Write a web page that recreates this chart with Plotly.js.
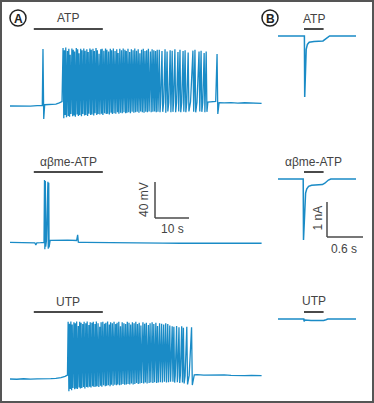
<!DOCTYPE html>
<html><head><meta charset="utf-8">
<script src="https://cdn.plot.ly/plotly-3.0.1.min.js"></script>
<style>html,body{margin:0;padding:0;background:#fff}#chart{width:374px;height:403px}</style>
</head><body><div id="chart"></div>
<script>
// ---------------- DATA ----------------
const drugs = ['ATP', 'αβme-ATP', 'UTP'];
const drugOnA = 7.0, drugOffA = 27.3;      // s
const drugOnB = 0.433, drugOffB = 0.76;    // s
const scaleA = {mV: 40, s: 10};
const scaleB = {nA: 1, s: 0.6};

// Panel A1 (ATP) – membrane potential (mV) vs time (s)
const a1BaseT = [0,2,4,6,8,9.5,10.2,12,13.5,14.5,15.3,43.6,44.3,45.2,45.9,46.7,47.4,48.1,49.0,49.7,50.5,51.2,52.0,53.1,54.1,55.0,55.9,56.7,57.4,58.2,59.0,60.5,61.5,63,65,67,69,71,73,74];
const a1BaseV = [-60,-60.3,-59.8,-60.2,-59.6,-59.4,-58.6,-58.2,-57.9,-56.5,-55.0,-56,-56.5,-56,-56.5,-56,-56.5,-56,-56.3,-56,-56.3,-56,-56,-55.5,-56,-55.8,-56,-56,-56,-55.6,-55.2,-55,-56.2,-56.6,-56.2,-56.8,-56.4,-56.9,-56.7,-57];
const a1SpikeT = [9.7,
 15.6,16.0,16.4,16.9,17.3,17.7,18.2,18.6,19.0,19.5,19.9,20.3,20.8,21.2,21.7,22.1,22.6,23.0,23.5,23.9,
 24.4,24.8,25.3,25.7,26.2,26.7,27.1,27.6,28.1,28.5,29.0,29.5,29.9,30.4,30.9,31.4,31.8,32.3,32.8,33.3,
 33.8,34.2,34.7,35.2,35.7,36.2,36.7,37.2,37.7,38.2,38.7,39.2,39.7,40.2,40.7,41.3,41.8,42.3,42.8,43.3,
 43.9,44.7,45.6,46.2,47.1,47.7,48.5,49.4,50.0,50.9,51.5,52.4,53.8,54.4,55.6,56.2,57.1,57.7,
 60.9];
const a1SpikePeak = [3.3,
 4.5,2.0,5.0,1.0,3.5,-3.0,4.0,2.5,0.5,4.5,3.0,-1.5,3.5,2.0,4.0,1.5,3.0,0.0,4.0,2.5,
 3.5,1.0,4.5,2.0,-2.0,3.0,3.5,1.5,4.0,2.5,0.5,3.5,2.0,4.0,1.0,3.0,-1.0,3.5,2.0,4.0,
 2.5,1.0,3.5,0.0,3.0,2.0,4.0,1.5,3.0,-1.5,2.5,3.5,1.0,2.0,3.5,0.5,3.0,2.0,1.0,2.5,
 2.5,1.0,3.0,0.5,2.0,1.5,3.0,0.0,2.5,1.0,2.0,-0.5,1.5,2.5,0.5,1.5,-1.0,0.5,
 -2.2];
const a1SpikeTrough = [-74.4,
 -73.5,-70,-72.5,-71,-72,-69,-71.5,-70.5,-72,-69.5,-71,-70,-71.5,-69,-70.5,-70,-71,-68.5,-70,-69.5,
 -70.5,-68,-70,-69,-69.5,-68.5,-70,-68,-69,-68.5,-69.5,-67.5,-69,-68,-68.5,-67,-68.5,-67.5,-68,-67,
 -68,-67.5,-67,-68,-66.5,-67.5,-67,-66.5,-67.5,-66,-67,-67.5,-66.5,-67,-66,-67,-66.5,-66,-67,-66.5,
 -67,-66.5,-67.5,-66,-67,-66.5,-67,-66,-67,-66.5,-67,-66,-66.5,-67,-66,-66.5,-67,-66.5,
 -68.9];

// Panel A2 (αβme-ATP)
const a2T = [0,2,4,6,7.3,7.6,7.9,9,10.0,10.15,10.25,10.4,10.5,10.7,11.15,11.25,11.4,11.5,11.8,13,15,17,19.6,19.9,20.1,20.4,22,25,28,32,36,40,45,50,55,60,65,70,74];
const a2V = [-59.4,-59.6,-59.3,-59.6,-59.8,-62.2,-59.8,-59.6,-59.3,10,-67,9,-64,-58,8,-66.5,7,-65,-57,-56.8,-56.6,-56.9,-57.2,-51,-59,-59.2,-59.3,-59.5,-59.6,-59.8,-60,-60.1,-60.2,-60.3,-60.2,-60.4,-60.3,-60.4,-60.3];

// Panel A3 (UTP)
const a3BaseT = [0,2,4,6,8,10,12,13.5,15,16.2,16.9,47.3,47.95,48.6,49.35,50.1,50.75,51.5,52.7,54.2,55,57,59,61,63,65,67,69,71,73,74];
const a3BaseV = [-60,-60.3,-59.7,-60.2,-59.8,-60.1,-59.6,-59.3,-58.5,-57,-55.6,-56,-56.5,-56,-56.5,-56,-57,-56.5,-56,-55.5,-55.2,-55.6,-55.3,-55.8,-55.5,-56,-55.7,-56.2,-56,-56.3,-56.2];
const a3SpikeT = [
 17.1,17.5,17.9,18.3,18.8,19.2,19.6,20.1,20.5,20.9,21.4,21.8,22.3,22.7,23.2,23.6,24.1,24.5,25.0,25.4,
 25.9,26.4,26.8,27.3,27.8,28.2,28.7,29.2,29.6,30.1,30.6,31.1,31.5,32.0,32.5,33.0,33.5,34.0,34.5,35.0,
 35.5,36.0,36.5,37.0,37.5,38.0,38.5,39.1,39.6,40.1,40.7,41.2,41.8,42.3,42.9,43.4,44.0,44.6,45.2,45.8,
 46.4,47.0,
 47.7,48.2,49.0,49.7,50.5,51.0,52.0,53.4];
const a3SpikePeak = [
 3.5,1.5,4.0,0.5,3.0,2.0,4.0,-1.0,3.5,2.5,1.0,3.5,2.0,4.0,0.0,3.0,2.5,3.5,1.0,4.0,
 2.0,-2.0,3.0,3.5,1.5,2.5,4.0,0.5,3.0,2.0,3.5,1.0,2.5,3.5,-1.5,3.0,2.0,1.0,3.5,2.5,
 0.5,3.0,2.0,3.5,1.0,2.5,-0.5,3.0,1.5,2.5,0.0,2.0,3.0,1.0,2.5,-1.0,2.0,1.5,0.5,2.0,
 1.0,-0.5,
 -1.5,-2.0,-1.0,-2.5,-1.5,-3.0,-2.0,-2.6];
const a3SpikeTrough = [
 -73.5,-71,-72.5,-70,-71.5,-70.5,-71,-69.5,-70.5,-70,-69,-70.5,-69,-69.5,-68.5,-69.5,-68,-69,-68.5,-68,
 -69,-67.5,-68.5,-67,-68,-67.5,-67,-68,-66.5,-67.5,-66.5,-67,-66,-67,-66.5,-65.5,-66.5,-66,-65.5,-66,
 -65,-66,-65.5,-64.5,-65.5,-65,-64.5,-65,-64,-65,-64.5,-64,-64.5,-63.5,-64.5,-64,-63.5,-64,-63,-64,
 -63.5,-63,
 -63,-64,-63.5,-64.5,-64,-65,-66,-66.7];

// Panel B – current (nA) vs time (s)
const b1T = [0,0.2,0.44,0.445,0.452,0.46,0.47,0.49,0.52,0.6,0.75,0.79,0.82,0.86,1.0,1.15,1.3];
const b1V = [0,0,0,-1.74,-1.2,-0.6,-0.38,-0.24,-0.18,-0.16,-0.14,-0.09,-0.04,0,0,0,0];
const b2T = [0,0.2,0.42,0.425,0.435,0.448,0.46,0.48,0.51,0.56,0.65,0.74,0.78,0.81,0.84,0.88,1.0,1.15,1.3];
const b2V = [0,0,0,-1.74,-1.2,-0.6,-0.4,-0.28,-0.21,-0.18,-0.17,-0.16,-0.12,-0.07,-0.03,0,0,0,0];
const b3T = [0,0.2,0.43,0.435,0.45,0.55,0.7,0.76,0.8,0.83,1.0,1.15,1.3];
const b3V = [0,0,0,-0.07,-0.03,-0.04,-0.05,-0.04,-0.02,0,0,0,0];

// ---------------- LAYOUT GEOMETRY (pixels) ----------------
const W = 374, H = 403;
const TRACE = '#1a8bc6', INK = '#4a4a4a', TXT = '#444444';
const FONT = 'Liberation Sans, Arial, sans-serif';
const gA = {xOrigin: 10, pxPerS: 3.4, xBox: [5, 267]};
const gB = {xOrigin: 278, pxPerS: 60, xBox: [272, 368]};
const rowsA = [{base:106, box:[24,130]}, {base:243, box:[150,258]}, {base:379, box:[295,398]}];
const rowsB = [{base:36, box:[24,104]}, {base:179, box:[150,258]}, {base:319, box:[295,340]}];
const barPx = [29, 172, 312];
const labelPxA = [18, 162, 301.5];
const labelPxB = [19, 162, 301];
const mVpx = 0.9, nApx = 35, restA = -60, restB = 0;
const spikeWidthS = 0.22;

function xAxis(g){return {domain:[g.xBox[0]/W, g.xBox[1]/W], range:[(g.xBox[0]-g.xOrigin)/g.pxPerS,(g.xBox[1]-g.xOrigin)/g.pxPerS], visible:false, fixedrange:true};}
function yAxis(r, v0, ppu){return {domain:[(H-r.box[1])/H,(H-r.box[0])/H], range:[v0-(r.box[1]-r.base)/ppu, v0+(r.base-r.box[0])/ppu], visible:false, fixedrange:true};}
function xv(g, px){return (px-g.xOrigin)/g.pxPerS;}
function yv(r, v0, ppu, py){return v0+(r.base-py)/ppu;}

function buildSpiking(baseT, baseV, spT, spPk, spTr){
  const pts = [];
  baseT.forEach((t,i)=>pts.push([t, baseV[i]]));
  spT.forEach((t,i)=>{pts.push([t, spPk[i]]); pts.push([t+spikeWidthS, spTr[i]]);});
  pts.sort((a,b)=>a[0]-b[0]);
  return {x: pts.map(p=>p[0]), y: pts.map(p=>p[1])};
}

const a1 = buildSpiking(a1BaseT, a1BaseV, a1SpikeT, a1SpikePeak, a1SpikeTrough);
const a3 = buildSpiking(a3BaseT, a3BaseV, a3SpikeT, a3SpikePeak, a3SpikeTrough);
const line = {color: TRACE, width: 1.3};
const lineB = {color: TRACE, width: 1.5};
const data = [
  {x:a1.x, y:a1.y, xaxis:'x', yaxis:'y', mode:'lines', line},
  {x:a2T, y:a2V, xaxis:'x2', yaxis:'y2', mode:'lines', line},
  {x:a3.x, y:a3.y, xaxis:'x3', yaxis:'y3', mode:'lines', line},
  {x:b1T, y:b1V, xaxis:'x4', yaxis:'y4', mode:'lines', line:lineB},
  {x:b2T, y:b2V, xaxis:'x5', yaxis:'y5', mode:'lines', line:lineB},
  {x:b3T, y:b3V, xaxis:'x6', yaxis:'y6', mode:'lines', line:lineB}
];

const layout = {
  width: W, height: H, margin:{l:0,r:0,t:0,b:0},
  paper_bgcolor:'#fff', plot_bgcolor:'rgba(0,0,0,0)', showlegend:false, hovermode:false,
  font:{family:FONT, color:TXT, size:12},
  shapes:[], annotations:[]
};
const axNames = ['','2','3','4','5','6'];
rowsA.forEach((r,i)=>{
  layout['xaxis'+axNames[i]] = Object.assign(xAxis(gA), {anchor:'y'+axNames[i]});
  layout['yaxis'+axNames[i]] = Object.assign(yAxis(r, restA, mVpx), {anchor:'x'+axNames[i]});
});
rowsB.forEach((r,i)=>{
  layout['xaxis'+axNames[i+3]] = Object.assign(xAxis(gB), {anchor:'y'+axNames[i+3]});
  layout['yaxis'+axNames[i+3]] = Object.assign(yAxis(r, restB, nApx), {anchor:'x'+axNames[i+3]});
});

// drug bars and labels
drugs.forEach((d,i)=>{
  const xa = 'x'+axNames[i], ya = 'y'+axNames[i];
  const xb = 'x'+axNames[i+3], yb = 'y'+axNames[i+3];
  const yA = yv(rowsA[i], restA, mVpx, barPx[i]);
  const yB = yv(rowsB[i], restB, nApx, barPx[i]);
  layout.shapes.push({type:'line', xref:xa, yref:ya, x0:drugOnA, x1:drugOffA, y0:yA, y1:yA, line:{color:INK, width:2}});
  layout.shapes.push({type:'line', xref:xb, yref:yb, x0:drugOnB, x1:drugOffB, y0:yB, y1:yB, line:{color:INK, width:2}});
  layout.annotations.push({text:d, xref:xa, yref:'paper', x:(drugOnA+drugOffA)/2, y:1-labelPxA[i]/H, xanchor:'center', yanchor:'middle', showarrow:false, font:{size:12, color:TXT}});
  layout.annotations.push({text:d, xref:xb, yref:'paper', x:(drugOnB+drugOffB)/2, y:1-labelPxB[i]/H, xanchor:'center', yanchor:'middle', showarrow:false, font:{size:12, color:TXT}});
});

// scale bar A (in A2 axes)
{
  const t0 = xv(gA, 155), v0 = yv(rowsA[1], restA, mVpx, 218);
  layout.shapes.push({type:'line', xref:'x2', yref:'y2', x0:t0, x1:t0, y0:v0, y1:v0+scaleA.mV, line:{color:INK, width:1.5}});
  layout.shapes.push({type:'line', xref:'x2', yref:'y2', x0:t0, x1:t0+scaleA.s, y0:v0, y1:v0, line:{color:INK, width:1.5}});
  layout.annotations.push({text:scaleA.mV+' mV', xref:'paper', yref:'paper', x:144/W, y:1-200/H, textangle:-90, xanchor:'center', yanchor:'middle', showarrow:false, font:{size:12, color:TXT}});
  layout.annotations.push({text:scaleA.s+' s', xref:'paper', yref:'paper', x:172/W, y:1-229/H, xanchor:'center', yanchor:'middle', showarrow:false, font:{size:12, color:TXT}});
}
// scale bar B (in B2 axes)
{
  const t0 = xv(gB, 327), v0 = yv(rowsB[1], restB, nApx, 237);
  layout.shapes.push({type:'line', xref:'x5', yref:'y5', x0:t0, x1:t0, y0:v0, y1:v0+scaleB.nA, line:{color:INK, width:1.5}});
  layout.shapes.push({type:'line', xref:'x5', yref:'y5', x0:t0, x1:t0+scaleB.s, y0:v0, y1:v0, line:{color:INK, width:1.5}});
  layout.annotations.push({text:scaleB.nA+' nA', xref:'paper', yref:'paper', x:317.5/W, y:1-218/H, textangle:-90, xanchor:'center', yanchor:'middle', showarrow:false, font:{size:12, color:TXT}});
  layout.annotations.push({text:scaleB.s+' s', xref:'paper', yref:'paper', x:344/W, y:1-249/H, xanchor:'center', yanchor:'middle', showarrow:false, font:{size:12, color:TXT}});
}
// panel letters in circles
[['A',18,18],['B',270,18]].forEach(([L,cx,cy])=>{
  const r = 8;
  layout.shapes.push({type:'circle', xref:'paper', yref:'paper', x0:(cx-r)/W, x1:(cx+r)/W, y0:1-(cy+r)/H, y1:1-(cy-r)/H, line:{color:'#222', width:1.5}});
  layout.annotations.push({text:'<b>'+L+'</b>', xref:'paper', yref:'paper', x:cx/W, y:1-(cy+0.5)/H, xanchor:'center', yanchor:'middle', showarrow:false, font:{size:12, color:'#222'}});
});
// outer frame
layout.shapes.push({type:'rect', xref:'paper', yref:'paper', x0:1/W, x1:373/W, y0:1-402/H, y1:1-1/H, line:{color:'#555', width:2}});

Plotly.newPlot('chart', data, layout, {staticPlot:true, displayModeBar:false});
</script>
</body></html>
